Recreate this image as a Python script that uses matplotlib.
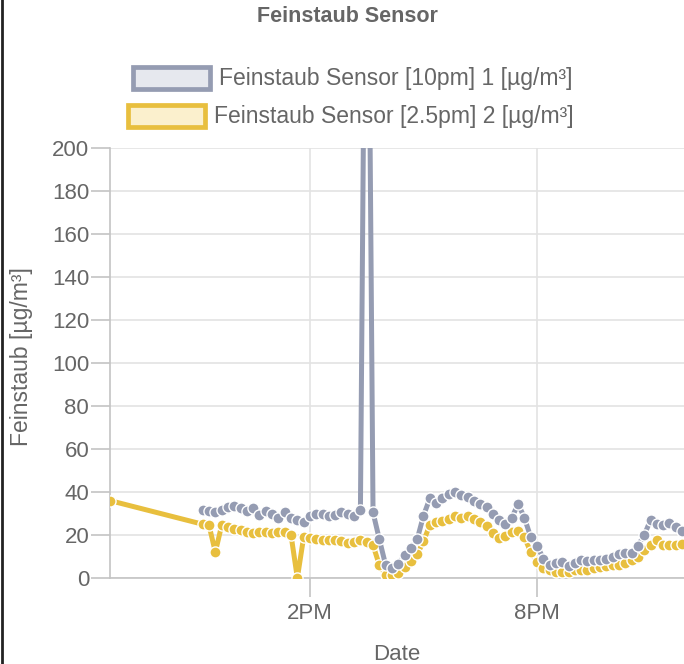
import matplotlib
matplotlib.use("Agg")
import matplotlib.pyplot as plt
from matplotlib.patches import Rectangle
from matplotlib.lines import Line2D

plt.rcParams['font.family'] = ['Liberation Sans', 'DejaVu Sans']

# ---------------- data ----------------
times = ["11:10", "11:20", "11:30", "11:40", "11:50", "12:00", "12:10", "12:20", "12:30", "12:40",
         "12:50", "13:00", "13:10", "13:20", "13:30", "13:40", "13:50", "14:00", "14:10", "14:20",
         "14:30", "14:40", "14:50", "15:00", "15:10", "15:20", "15:30", "15:40", "15:50", "16:00",
         "16:10", "16:20", "16:30", "16:40", "16:50", "17:00", "17:10", "17:20", "17:30", "17:40",
         "17:50", "18:00", "18:10", "18:20", "18:30", "18:40", "18:50", "19:00", "19:10", "19:20",
         "19:30", "19:40", "19:50", "20:00", "20:10", "20:20", "20:30", "20:40", "20:50", "21:00",
         "21:10", "21:20", "21:30", "21:40", "21:50", "22:00", "22:10", "22:20", "22:30", "22:40",
         "22:50", "23:00", "23:10", "23:20", "23:30", "23:40", "23:50"]

pm10 = [31.5, 31, 30.5, 31.5, 33, 33.5, 32.5, 31, 32.5, 29.5,
        31, 30, 28, 30.5, 28, 27, 26, 29, 30, 30,
        29, 29.5, 30.5, 30, 29, 31.5, 400, 30.5, 18, 6,
        4.6, 6.5, 10.5, 14, 18, 29, 37, 35, 37, 39,
        40, 38.8, 37.5, 36, 34.5, 33, 30, 27, 25, 28,
        34.5, 28, 19, 15, 9, 6, 7, 7.4, 5.5, 7,
        8.4, 8, 8.5, 8.4, 9, 10, 11, 11.6, 11.6, 15,
        20, 27, 25, 24.5, 25.5, 23.5, 22]

pm25_start_time = "08:43"
pm25_start_value = 36
pm25 = [25, 24.5, 12, 24.5, 23.5, 23, 22.3, 21.5, 21, 21.4,
        21.4, 21, 21.4, 21.2, 20, 0, 19, 18.6, 18, 17.7,
        17.7, 17.7, 17, 16.5, 16.7, 17.5, 16.7, 15.3, 6, 1.4,
        1.4, 2.3, 5, 8, 11, 17, 24.7, 26, 26.5, 27.5,
        29, 28, 29, 27.5, 26, 24, 21, 18.6, 19.5, 21.4,
        22, 19, 12, 7.5, 4.6, 3.5, 2.8, 2.8, 3, 3.5,
        3.7, 3.7, 4.5, 5, 5.5, 6, 6, 7, 8.4, 10,
        13, 15.3, 17.7, 15.5, 15.3, 15.3, 16]

x_range = ["08:43", "23:53"]
tick_times = ["14:00", "20:00"]
tick_labels = ["2PM", "8PM"]
y_ticks = [0, 20, 40, 60, 80, 100, 120, 140, 160, 180, 200]

title = "Feinstaub Sensor"
label1 = "Feinstaub Sensor [10pm] 1 [µg/m³]"
label2 = "Feinstaub Sensor [2.5pm] 2 [µg/m³]"
ylabel = "Feinstaub [µg/m³]"
xlabel = "Date"


def hours(s):
    h, m = s.split(":")
    return int(h) + int(m) / 60.0


# ---------------- styling ----------------
GRAY = "#959cb2"
YELLOW = "#e8bf3e"
GRAY_FILL = "#e6e8ee"
YELLOW_FILL = "#fbf0cd"
TXT = "#666666"
GRID = "#e3e3e3"
AXISC = "#c4c4c4"

W, H = 684, 664
fig = plt.figure(figsize=(W / 100, H / 100), dpi=100)
ax = fig.add_axes([110 / W, (H - 578) / H, (W - 110) / W, (578 - 148) / H])

xt = [hours(t) for t in times]
x_yellow = [hours(pm25_start_time)] + xt
y_yellow = [pm25_start_value] + pm25

ax.plot(x_yellow, y_yellow, color=YELLOW, lw=3.6, zorder=3, solid_joinstyle='round')
ax.plot(x_yellow, y_yellow, ls='none', marker='o', ms=8.0, mfc=YELLOW,
        mec='white', mew=1.0, zorder=4)
ax.plot(xt, pm10, color=GRAY, lw=3.6, zorder=5, solid_joinstyle='round')
ax.plot(xt, pm10, ls='none', marker='o', ms=8.0, mfc=GRAY, mec='white', mew=1.0, zorder=6)

ax.set_xlim(hours(x_range[0]), hours(x_range[1]))
ax.set_ylim(0, 200)
ax.set_yticks(y_ticks)
ax.set_yticklabels([str(v) for v in y_ticks])
ax.set_xticks([hours(t) for t in tick_times])
ax.set_xticklabels(tick_labels)

for s in ['top', 'right']:
    ax.spines[s].set_visible(False)
for s in ['left', 'bottom']:
    ax.spines[s].set_color(AXISC)
    ax.spines[s].set_linewidth(1.2)
ax.grid(True, color=GRID, lw=1.2, zorder=0)
ax.set_axisbelow(True)
ax.tick_params(axis='y', colors=AXISC, labelcolor=TXT, labelsize=16,
               length=14, width=1.2, pad=1)
ax.tick_params(axis='x', colors=AXISC, labelcolor=TXT, labelsize=16,
               length=14, width=1.2, pad=4)

fig.text(22 / W, 1 - 357 / H, ylabel, rotation=90, ha='center', va='center',
         fontsize=16.5, color=TXT)
fig.text(397 / W, 1 - 655 / H, xlabel, ha='center', va='center',
         fontsize=16, color=TXT)

# title
fig.text(347 / W, 1 - 17 / H, title, ha='center', va='center', fontsize=15.5,
         fontweight='bold', color=TXT)

# legend (chart.js style, one item per row)
def legend_item(x0, yc, fill, edge, label):
    bw, bh = 77, 22
    r = Rectangle((x0 / W, 1 - (yc + bh / 2) / H), bw / W, bh / H, transform=fig.transFigure,
                  facecolor=fill, edgecolor=edge, lw=3.4, clip_on=False)
    fig.add_artist(r)
    fig.text((x0 + bw + 9) / W, 1 - yc / H, label, ha='left', va='center',
             fontsize=16.5, color=TXT)

legend_item(133, 78, GRAY_FILL, GRAY, label1)
legend_item(128, 116, YELLOW_FILL, YELLOW, label2)

# left border line of screenshot
fig.add_artist(Line2D([1.5 / W, 1.5 / W], [0, 1], transform=fig.transFigure,
                      color="#222222", lw=2))

fig.savefig("out.png", dpi=100)
